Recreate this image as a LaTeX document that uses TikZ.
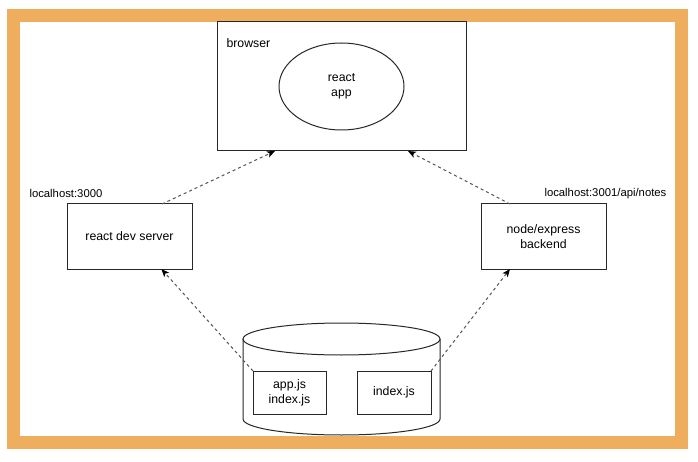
\documentclass[tikz,border=0pt]{standalone}
\usepackage{fontspec}
\setmainfont{Liberation Sans}
\usetikzlibrary{shapes.geometric,arrows.meta,calc}
\definecolor{frameorange}{RGB}{239,173,94}
\definecolor{linegray}{RGB}{40,40,40}
\definecolor{dashgray}{RGB}{85,85,85}
\begin{document}
\begin{tikzpicture}[x=1pt,y=-1pt,
  box/.style={draw=linegray,line width=1pt,inner sep=2pt,outer sep=0pt,align=center,
    font=\fontsize{12.3}{15}\selectfont},
  lbl/.style={inner sep=0pt,outer sep=0pt,anchor=west},
  conn/.style={draw=dashgray,line width=1pt,dash pattern=on 3pt off 3pt,
    -{Stealth[length=8pt,width=6.5pt,inset=2pt,color=black]}}]
\fill[white] (0,0) rectangle (698,462);
\useasboundingbox (0,0) rectangle (698,462);
\draw[frameorange,line width=13.3pt] (13.6,15.6) rectangle (681.4,442.3);
% browser
\node[box,minimum width=249pt,minimum height=129pt] (browser) at (341.5,86.5) {};
\node[lbl,font=\fontsize{12.3}{15}\selectfont] (browserlbl) at (226.5,43) {browser};
\node[box,ellipse,minimum width=125pt,minimum height=87pt,inner sep=0pt] (app) at (341.5,86.5) {react\\app};
% servers
\node[box,minimum width=125pt,minimum height=65pt] (dev) at (129.5,236.5) {react dev server};
\node[box,minimum width=125pt,minimum height=65pt] (node) at (543.5,236.5) {node/express\\backend};
\node[lbl,font=\fontsize{11.3}{14}\selectfont] (l3000) at (29.5,193) {localhost:3000};
\node[lbl,font=\fontsize{11.3}{14}\selectfont] (l3001) at (544.5,194) {localhost:3001/api/notes};
% cylinder
\filldraw[draw=linegray,fill=white,line width=1pt]
  (243,339) -- (243,419) arc[start angle=180,end angle=0,x radius=98.5,y radius=16]
  -- (440,339);
\draw[linegray,line width=1pt] (341.5,339) ellipse[x radius=98.5,y radius=16];
\coordinate (repo) at (341.5,380);
\node[box,minimum width=73pt,minimum height=43pt] (appjs) at (289.5,392.5) {app.js\\index.js};
\node[box,minimum width=74pt,minimum height=43pt] (indexjs) at (394,392.5) {index.js};
% connectors
\draw[conn] (appjs.north west) -- ($(dev.south west)!0.755!(dev.south east)$);
\draw[conn] (indexjs.north east) -- ($(node.south west)!0.232!(node.south east)$);
\draw[conn] ($(dev.north west)!0.76!(dev.north east)$) -- ($(browser.south west)!0.233!(browser.south east)$);
\draw[conn] ($(node.north west)!0.232!(node.north east)$) -- ($(browser.south west)!0.767!(browser.south east)$);
\end{tikzpicture}
\end{document}
